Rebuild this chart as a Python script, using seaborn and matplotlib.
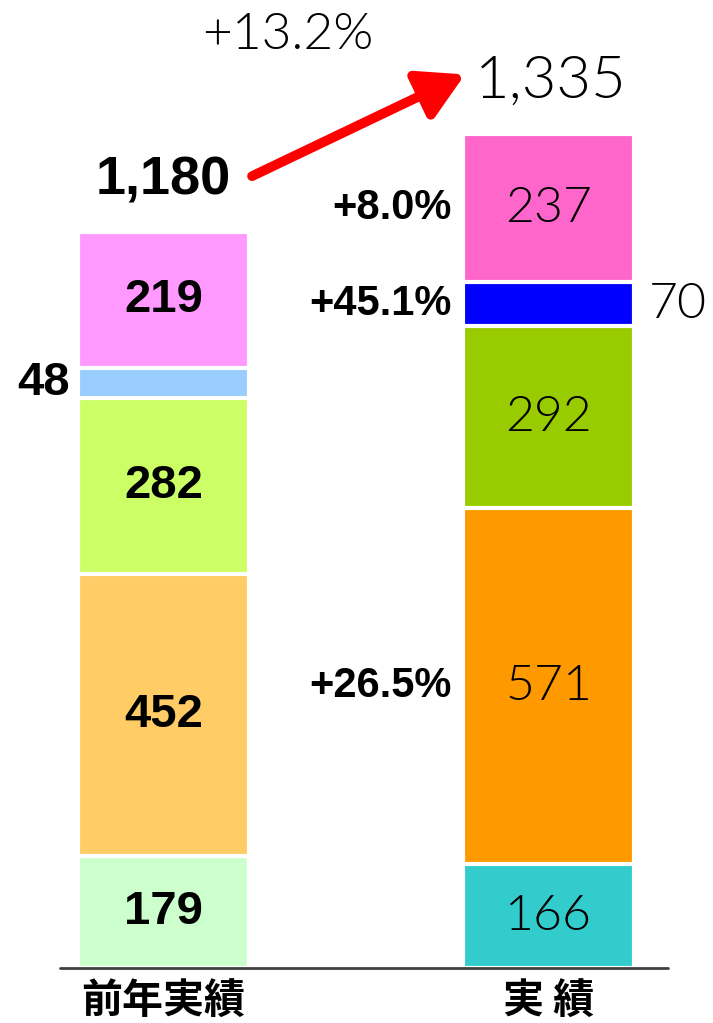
import matplotlib
matplotlib.use("Agg")
import matplotlib.pyplot as plt
import seaborn as sns
import pandas as pd
import numpy as np

# -------------------------------------------------------------------------
# データ
# -------------------------------------------------------------------------
categories = ["前年実績", "実 績"]
prev_values = [179, 452, 282, 48, 219]      # 下から上へ
cur_values = [166, 571, 292, 70, 237]
totals = [1180, 1335]                        # 表示上の合計(端数処理済み)
prev_colors = ["#CCFFCC", "#FFCC66", "#CCFF66", "#99CCFF", "#FF99FF"]
cur_colors = ["#33CCCC", "#FF9900", "#99CC00", "#0000FF", "#FF66CC"]
growth_labels = [None, "+26.5%", None, "+45.1%", "+8.0%"]
total_growth = "+13.2%"

# -------------------------------------------------------------------------
# 図
# -------------------------------------------------------------------------
sns.set_theme(style="white")
plt.rcParams['font.family'] = ['Liberation Sans', 'Noto Sans CJK JP', 'DejaVu Sans']

fig = plt.figure(figsize=(7.13, 10.23), dpi=100)
ax = fig.add_axes([0, 55 / 1023, 1, 968 / 1023])

bar_w = 0.444
prev_cum = np.cumsum(prev_values)
cur_cum = np.cumsum(cur_values)

# 積み上げ: 上の段から順に重ね描き
for i in reversed(range(len(prev_values))):
    seg = pd.DataFrame({"cat": categories, "top": [prev_cum[i], cur_cum[i]]})
    sns.barplot(data=seg, x="cat", y="top", hue="cat",
                palette={categories[0]: prev_colors[i], categories[1]: cur_colors[i]},
                width=bar_w, saturation=1, edgecolor="white", linewidth=3,
                legend=False, ax=ax)

# 数値ラベル
light = dict(family=['Lato', 'DejaVu Sans'], fontweight=300)
for i, (p, c) in enumerate(zip(prev_values, cur_values)):
    yp = prev_cum[i] - p / 2
    yc = cur_cum[i] - c / 2
    if p < 60:
        ax.text(-bar_w / 2 - 0.02, yp, str(p), ha="right", va="center",
                fontsize=34, fontweight="bold", color="black")
    else:
        ax.text(0, yp, str(p), ha="center", va="center",
                fontsize=34, fontweight="bold", color="black")
    if c < 100:
        ax.text(1 + bar_w / 2 + 0.04, yc, str(c), ha="left", va="center",
                fontsize=36, color="black", **light)
    else:
        ax.text(1, yc, str(c), ha="center", va="center",
                fontsize=36, color="black", **light)
    if growth_labels[i]:
        ax.text(1 - bar_w / 2 - 0.03, yc, growth_labels[i], ha="right", va="center",
                fontsize=30, fontweight="bold", color="black")

# 合計
ax.text(0, prev_cum[-1] + 82, f"{totals[0]:,}", ha="center", va="center",
        fontsize=39, fontweight="bold", color="black")
ax.text(1.005, cur_cum[-1] + 86, f"{totals[1]:,}", ha="center", va="center",
        fontsize=43, color="black", **light)
ax.text(0.323, 1495, total_growth, ha="center", va="center",
        fontsize=37, color="black", **light)

# 矢印
ax.annotate("", xy=(0.783, cur_cum[-1] + 96), xytext=(0.23, prev_cum[-1] + 89),
            arrowprops=dict(arrowstyle="-|>,head_length=2.3,head_width=1.3",
                            color="red", lw=7, shrinkA=0, shrinkB=0))

# 軸
ax.set_xlim(-0.4247, 1.4273)
ax.set_ylim(0, 968 / 0.624)
ax.axhline(0, xmin=60 / 713, xmax=668 / 713, color="#404040", lw=2, clip_on=False)
sns.despine(ax=ax, left=True, bottom=True)
ax.set_yticks([])
ax.set_xlabel("")
ax.set_ylabel("")
ax.tick_params(axis="x", length=0, pad=9)
for lab in ax.get_xticklabels():
    lab.set_fontfamily(['Noto Sans CJK JP', 'DejaVu Sans'])
    lab.set_fontweight("bold")
    lab.set_fontsize(29.5)
    lab.set_color("black")

fig.savefig("out.png", dpi=100)
